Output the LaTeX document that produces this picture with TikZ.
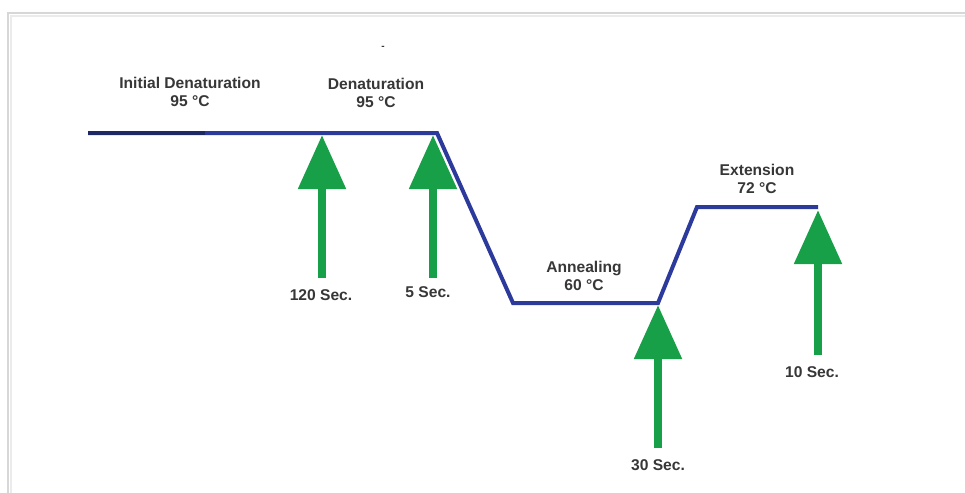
\documentclass[tikz,border=0pt]{standalone}
\usepackage{fontspec}
\setmainfont{Liberation Sans}
\usetikzlibrary{arrows.meta}
\definecolor{lineblue}{RGB}{44,58,156}
\definecolor{darkblue}{RGB}{30,40,100}
\definecolor{arrgreen}{RGB}{24,160,72}
\definecolor{txtgrey}{RGB}{55,55,55}
\definecolor{framegrey}{RGB}{215,215,215}
\tikzset{
  lbl/.style={font=\bfseries\fontsize{15.6}{18}\selectfont, text=txtgrey, align=center, inner sep=0pt},
  profile/.style={draw=lineblue, line width=4pt, line join=miter},
  uparrow/.style={draw=arrgreen, line width=8.5pt, -{Triangle[width=46pt,length=54pt]}}
}
\begin{document}
\begin{tikzpicture}[x=1pt,y=-1pt]
\useasboundingbox (0,0) rectangle (965,492);
\fill[white] (0,0) rectangle (965,492);
\draw[framegrey, line width=1.5pt] (972,13) -- (8,13) -- (8,500);
\draw[framegrey!50, line width=2pt] (972,16) -- (11,16) -- (11,500);

% profile vertices
\coordinate (A) at (88,133);
\coordinate (A2) at (205,133);
\coordinate (B) at (437,133);
\coordinate (C) at (513,303);
\coordinate (D) at (658,303);
\coordinate (E) at (697,207);
\coordinate (F) at (818,207);
\draw[profile] (A) -- (B) -- (C) -- (D) -- (E) -- (F);
\draw[draw=darkblue, line width=4pt] (A) -- (A2);

% labels
\node[lbl] (l1) at (190,92) {Initial Denaturation\\95 °C};
\node[lbl] (l2) at (376,93) {Denaturation\\95 °C};
\node[lbl] (l3) at (584,276) {Annealing\\60 °C};
\node[lbl] (l4) at (757,179) {Extension\\72 °C};
\node[lbl, font=\bfseries\fontsize{10}{10}\selectfont] (dot) at (383,48) {-};

\node[lbl] (s1) at (321,295) {120 Sec.};
\node[lbl] (s2) at (428,292) {5 Sec.};
\node[lbl] (s3) at (658,465) {30 Sec.};
\node[lbl] (s4) at (812,372) {10 Sec.};

% arrow tips and shaft ends
\coordinate (t1) at (322,135);
\coordinate (t2) at (433,135);
\coordinate (t3) at (658,305);
\coordinate (t4) at (818,210);
\coordinate (b1) at (322,278);
\coordinate (b2) at (433,278);
\coordinate (b3) at (658,448);
\coordinate (b4) at (818,355);

\draw[uparrow] (b1) -- (t1);
\draw[uparrow] (b2) -- (t2);
\draw[uparrow] (b3) -- (t3);
\draw[uparrow] (b4) -- (t4);
\end{tikzpicture}
\end{document}
